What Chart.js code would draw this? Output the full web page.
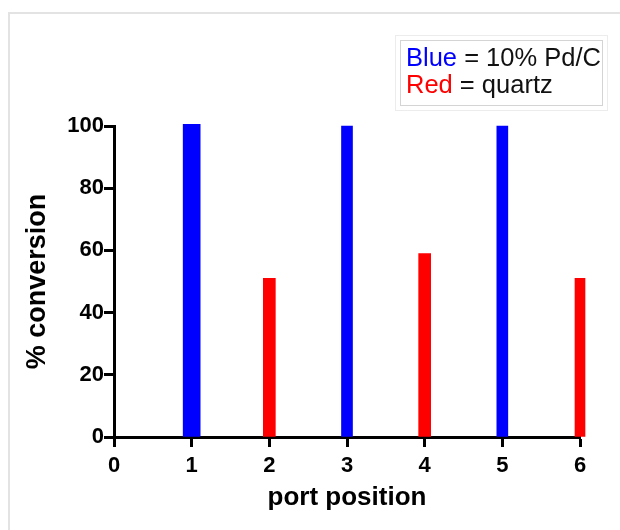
<!DOCTYPE html>
<html>
<head>
<meta charset="utf-8">
<script src="https://cdn.jsdelivr.net/npm/chart.js@4.4.1/dist/chart.umd.min.js"></script>
<style>
  html, body { margin: 0; padding: 0; background: #fff; }
  #wrap { position: relative; width: 620px; height: 530px; overflow: hidden; }
  #frame { position: absolute; left: 8px; top: 12px; right: -4px; bottom: -4px;
           border-top: 2px solid #e3e3e3; border-left: 2px solid #e3e3e3; }
  #key { position: absolute; left: 395px; top: 35px; width: 213px; height: 76px;
         border: 1px solid #ececec; box-sizing: border-box; padding: 4px; }
  #key div.box { border: 1px solid #d4d4d4; height: 100%; box-sizing: border-box;
         font-family: "Liberation Sans", Arial, sans-serif; font-size: 25.5px;
         line-height: 27px; color: #111; padding: 3px 0 0 5px; white-space: nowrap; }
</style>
</head>
<body>
<div id="wrap">
  <div id="frame"></div>
  <canvas id="myChart" width="620" height="530"></canvas>
  <div id="key"><div class="box">
    <div><span style="color:#0000ff">Blue</span> = 10% Pd/C</div>
    <div><span style="color:#ff0000">Red</span> = quartz</div>
  </div></div>
</div>
<script>
// port positions and % conversion per catalyst
var bluePorts = [1, 3, 5];
var blueValues = [100.5, 100, 100];
var redPorts = [2, 4, 6];
var redValues = [51, 59, 51];
var xTicks = [0, 1, 2, 3, 4, 5, 6];
var yTicks = [0, 20, 40, 60, 80, 100];

// bar widths in px, one per bar
var blueWidths = [17, 11, 11];
var redWidths = [12, 12, 10];

var datasets = [];
bluePorts.forEach(function (p, i) {
    datasets.push({
        data: [{ x: p, y: blueValues[i] }],
        backgroundColor: "#0000ff",
        barThickness: blueWidths[i],
        grouped: false,
        clip: false
    });
});
redPorts.forEach(function (p, i) {
    datasets.push({
        data: [{ x: p, y: redValues[i] }],
        backgroundColor: "#ff0000",
        barThickness: redWidths[i],
        grouped: false,
        clip: false
    });
});

var tickFont = { family: "Liberation Sans", size: 22, weight: "bold" };

var ctx = document.getElementById("myChart").getContext("2d");
var myChart = new Chart(ctx, {
    type: "bar",
    data: { datasets: datasets },
    options: {
        responsive: false,
        animation: false,
        layout: { padding: { left: 0, top: 126, right: 40, bottom: 0 } },
        plugins: { legend: { display: false }, tooltip: { enabled: false } },
        scales: {
            x: {
                type: "linear",
                min: 0,
                max: 6,
                offset: false,
                afterBuildTicks: function (scale) {
                    scale.ticks = xTicks.map(function (v) { return { value: v }; });
                },
                afterFit: function (scale) { scale.height = 93; },
                ticks: { color: "#000", font: tickFont, padding: 6, maxRotation: 0 },
                grid: { offset: false, drawOnChartArea: false, drawTicks: true, tickLength: 10,
                        tickWidth: 3, tickColor: "#000" },
                border: { display: true, color: "#000", width: 3 },
                title: { display: true, text: "port position", color: "#000",
                         font: { family: "Liberation Sans", size: 26, weight: "bold" },
                         padding: { top: 0, bottom: 17 } }
            },
            y: {
                min: 0,
                max: 100,
                afterBuildTicks: function (scale) {
                    scale.ticks = yTicks.map(function (v) { return { value: v }; });
                },
                afterFit: function (scale) { scale.width = 114; },
                ticks: { color: "#000", font: tickFont, padding: 0 },
                grid: { offset: false, drawOnChartArea: false, drawTicks: true, tickLength: 10,
                        tickWidth: 3, tickColor: "#000" },
                border: { display: true, color: "#000", width: 3 },
                title: { display: true, text: "% conversion", color: "#000",
                         font: { family: "Liberation Sans", size: 27, weight: "bold" },
                         padding: { top: 21, bottom: 0 } }
            }
        }
    }
});
</script>
</body>
</html>
